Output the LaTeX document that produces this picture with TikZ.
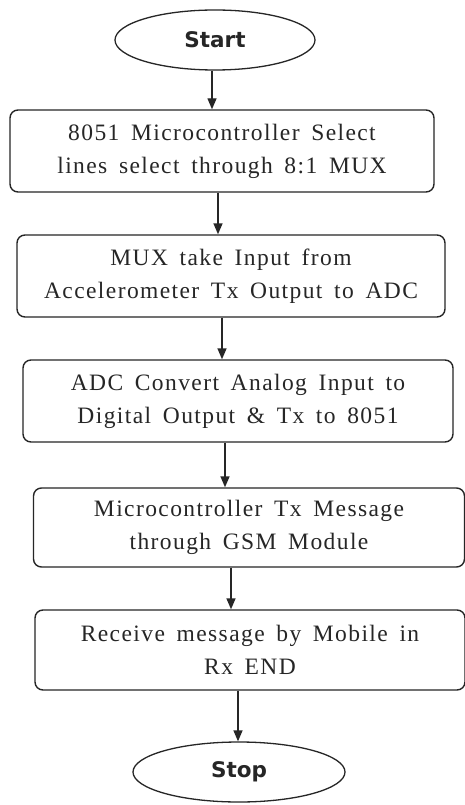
\documentclass[tikz,border=0pt]{standalone}
\usepackage{fontspec}
\setmainfont{Liberation Serif}[LetterSpace=6,WordSpace=1.6]
\newfontfamily\termfont{DejaVu Sans}
\usetikzlibrary{shapes.geometric,arrows.meta}
\definecolor{ink}{HTML}{262626}
\begin{document}
\begin{tikzpicture}[x=1pt,y=-1pt,
  procbox/.style={draw=ink,line width=1.4pt,rounded corners=8pt,align=center,
    inner sep=0pt,font=\fontsize{23.5}{33}\selectfont,text=ink},
  termnode/.style={draw=ink,line width=1.3pt,ellipse,inner sep=0pt,
    font=\termfont\bfseries\fontsize{21.5}{24}\selectfont,text=ink},
  arr/.style={draw=ink,line width=1.4pt,-{Triangle[width=9pt,length=11pt]}}]
\useasboundingbox (0,0) rectangle (465,805);
\fill[white] (0,0) rectangle (465,805);
\node[termnode,minimum width=200,minimum height=60] (start) at (215,40) {Start};
\node[procbox,minimum width=424,minimum height=82] (b1) at (222,151)
  {8051 Microcontroller Select\\lines select through 8:1 MUX};
\node[procbox,minimum width=428,minimum height=82] (b2) at (231,276)
  {MUX take Input from\\Accelerometer Tx Output to ADC};
\node[procbox,minimum width=430,minimum height=82] (b3) at (238,401)
  {ADC Convert Analog Input to\\Digital Output \& Tx to 8051};
\node[procbox,minimum width=431,minimum height=79] (b4) at (249,527.5)
  {Microcontroller Tx Message\\through GSM Module};
\node[procbox,minimum width=430,minimum height=80] (b5) at (250,650)
  {Receive message by Mobile in\\Rx END};
\node[termnode,minimum width=212,minimum height=60] (stop) at (239,772) {Stop};
\draw[arr] ([xshift=-3]start.south) -- ([xshift=-3]start.south |- b1.north);
\draw[arr] ([xshift=-4]b1.south) -- ([xshift=-4]b1.south |- b2.north);
\draw[arr] ([xshift=-9]b2.south) -- ([xshift=-9]b2.south |- b3.north);
\draw[arr] ([xshift=-13]b3.south) -- ([xshift=-13]b3.south |- b4.north);
\draw[arr] ([xshift=-18]b4.south) -- ([xshift=-18]b4.south |- b5.north);
\draw[arr] ([xshift=-12]b5.south) -- ([xshift=-12]b5.south |- stop.north);
\end{tikzpicture}
\end{document}
